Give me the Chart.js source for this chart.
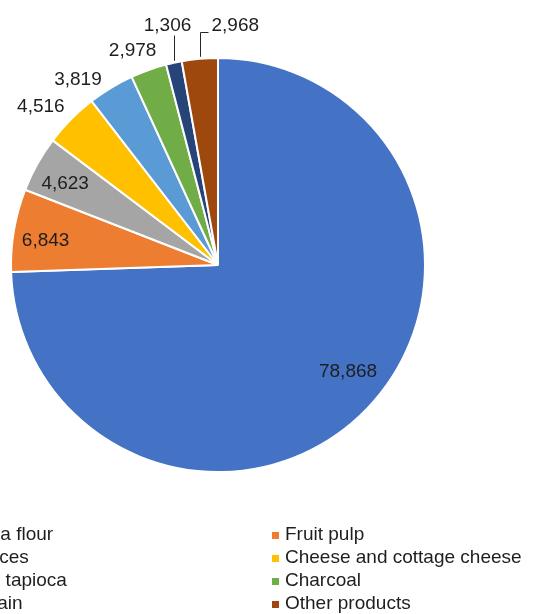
<!DOCTYPE html>
<html>
<head>
<meta charset="utf-8">
<script src="https://cdn.jsdelivr.net/npm/chart.js@4/dist/chart.umd.min.js"></script>
<style>
  html, body { margin: 0; padding: 0; background: #fff; overflow: hidden; }
  #wrap { position: relative; width: 536px; height: 614px; }
</style>
</head>
<body>
<div id="wrap"><canvas id="pie" width="536" height="614"></canvas></div>
<script>
// products and their counts
const categories = ['Cassava flour', 'Fruit pulp', 'Fruit juices', 'Cheese and cottage cheese',
                    'Gum or tapioca', 'Charcoal', 'Rice grain', 'Other products'];
const values = [78868, 6843, 4623, 4516, 3819, 2978, 1306, 2968];
const colors = ['#4472C4', '#ED7D31', '#A5A5A5', '#FFC000', '#5B9BD5', '#70AD47', '#264478', '#9E480E'];

const FONT = '19px "Liberation Sans", Arial, sans-serif';
const TEXT = '#1e1e1e';

// how each value label is placed, plus a small hand nudge (px) like Excel's best fit
const labelModes = ['inside', 'inside', 'inside', 'outside', 'outside', 'outside', 'leader', 'leaderRight'];
const labelNudge = [[5, -14], [-1, 5], [-1, 4], [-30, -13], [-33, -8], [-16, -19], [0, 0], [0, 0]];

const fmt = v => v.toLocaleString('en-US');

const pieLabels = {
    id: 'pieLabels',
    afterDraw(chart) {
        const ctx = chart.ctx;
        const meta = chart.getDatasetMeta(0);
        ctx.save();
        ctx.font = FONT;
        ctx.fillStyle = TEXT;
        ctx.strokeStyle = '#262626';
        ctx.lineWidth = 1;
        meta.data.forEach((arc, i) => {
            const { x, y, startAngle, endAngle, outerRadius } = arc.getProps(['x', 'y', 'startAngle', 'endAngle', 'outerRadius'], true);
            const mid = (startAngle + endAngle) / 2;
            const text = fmt(values[i]);
            const mode = labelModes[i];
            const [nx, ny] = labelNudge[i];
            ctx.textBaseline = 'middle';
            if (mode === 'inside' || mode === 'outside') {
                const f = mode === 'inside' ? 0.84 : 1;
                ctx.textAlign = 'center';
                ctx.fillText(text, x + Math.cos(mid) * outerRadius * f + nx, y + Math.sin(mid) * outerRadius * f + ny);
            } else {
                const ex = x + Math.cos(mid) * outerRadius;
                const ey = y + Math.sin(mid) * outerRadius;
                const lx = Math.round(ex) + 0.5;
                ctx.beginPath();
                ctx.moveTo(lx, ey - 2);
                if (mode === 'leaderRight') {
                    const top = Math.round(y - outerRadius - 26) + 0.5;
                    ctx.lineTo(lx, top);
                    ctx.lineTo(lx + 8, top);
                    ctx.stroke();
                    ctx.textAlign = 'left';
                    ctx.fillText(text, lx + 11, top - 7);
                } else {
                    const top = Math.round(y - outerRadius - 23) + 0.5;
                    ctx.lineTo(lx, top);
                    ctx.stroke();
                    ctx.textAlign = 'center';
                    ctx.fillText(text, lx - 7, top - 10);
                }
            }
        });

        // two-column legend, partly cut at the left edge
        ctx.textAlign = 'left';
        ctx.textBaseline = 'middle';
        const colX = [-76, 272];
        categories.forEach((name, i) => {
            const mx = colX[i % 2];
            const my = 535 + Math.floor(i / 2) * 23;
            ctx.fillStyle = colors[i];
            ctx.fillRect(mx, my - 3, 7, 7);
            ctx.fillStyle = TEXT;
            ctx.fillText(name, mx + 13, my);
        });
        ctx.restore();
    }
};

new Chart(document.getElementById('pie'), {
    type: 'pie',
    data: {
        labels: categories,
        datasets: [{
            data: values,
            backgroundColor: colors,
            borderColor: '#ffffff',
            borderWidth: 2,
            hoverOffset: 0
        }]
    },
    options: {
        responsive: false,
        animation: false,
        layout: { padding: { left: 10, top: 57, right: 110, bottom: 141 } },
        plugins: {
            legend: { display: false },
            tooltip: { enabled: false }
        }
    },
    plugins: [pieLabels]
});
</script>
</body>
</html>
